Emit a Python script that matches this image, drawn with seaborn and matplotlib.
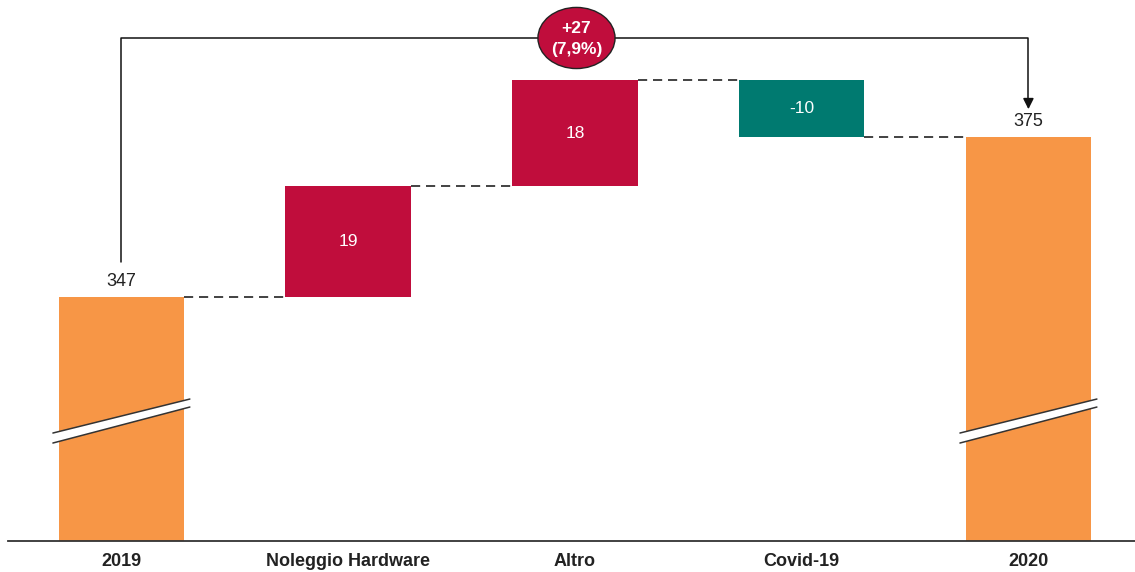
import matplotlib
matplotlib.use("Agg")
import matplotlib.pyplot as plt
import matplotlib.patches as mpatches
import seaborn as sns
import pandas as pd
import numpy as np

categories = ["2019", "Noleggio Hardware", "Altro", "Covid-19", "2020"]
start_value = 347.4
deltas = [19.4, 18.6, -10.0]
end_value = 375.4
value_labels = ["347", "19", "18", "-10", "375"]
total_label = "+27\n(7,9%)"

ORANGE = "#F79646"
RED = "#C00D3C"
TEAL = "#007A70"

sns.set_theme(style="white")
plt.rcParams['font.family'] = ['Liberation Sans Narrow', 'Liberation Sans', 'DejaVu Sans']

# waterfall geometry from data
tops, bottoms = [], []
cum = start_value
tops.append(start_value); bottoms.append(0.0)
for d in deltas:
    lo, hi = min(cum, cum + d), max(cum, cum + d)
    bottoms.append(lo); tops.append(hi)
    cum += d
tops.append(end_value); bottoms.append(0.0)
heights = [t - b for t, b in zip(tops, bottoms)]
colors = [ORANGE] + [RED if d > 0 else TEAL for d in deltas] + [ORANGE]

df = pd.DataFrame({"cat": categories, "h": heights})

fig = plt.figure(figsize=(11.35, 5.72), dpi=100)
ax = fig.add_axes([8 / 1135, 31 / 572, 1 - 8 / 1135, 541 / 572])
sns.barplot(data=df, x="cat", y="h", hue="cat", palette=colors, width=0.553,
            saturation=1, legend=False, ax=ax, edgecolor="none")
for p, b in zip(ax.patches, bottoms):
    p.set_y(b)

ax.set_xlim(-0.5, 4.47)
ax.set_ylim(304.7, 399.4)
ax.set_xlabel(""); ax.set_ylabel("")
ax.set_yticks([])
for s in ["top", "left", "right"]:
    ax.spines[s].set_visible(False)
ax.spines["bottom"].set_color("#333333")
ax.spines["bottom"].set_linewidth(1.3)
ax.tick_params(axis="x", length=0, pad=8.5)
for lab in ax.get_xticklabels():
    lab.set_fontweight("bold")
    lab.set_fontsize(13)
    lab.set_color("#222222")

hw = 0.553 / 2
# connectors
levels = [start_value]
cum = start_value
for d in deltas:
    cum += d
    levels.append(cum)
for i, lv in enumerate(levels):
    ax.plot([i + hw, i + 1 - hw], [lv, lv], color="#222222", lw=1.2,
            ls=(0, (5.5, 3.5)), zorder=1)

# labels
ax.text(0, tops[0] + 1.2, value_labels[0], ha="center", va="bottom", fontsize=13, color="#222222")
ax.text(4, tops[4] + 1.2, value_labels[4], ha="center", va="bottom", fontsize=13, color="#222222")
for i in range(1, 4):
    ax.text(i, (tops[i] + bottoms[i]) / 2, value_labels[i], ha="center", va="center",
            fontsize=12.5, color="white")

# axis break marks
for xc in [0, 4]:
    x0, x1 = xc - 0.302, xc + 0.302
    poly = mpatches.Polygon([(x0, 321.85), (x1, 328.15), (x1, 329.55), (x0, 323.6)],
                            closed=True, facecolor="white", edgecolor="none", zorder=3)
    ax.add_patch(poly)
    ax.plot([x0, x1], [323.6, 329.55], color="#333333", lw=1.1, zorder=4)
    ax.plot([x0, x1], [321.85, 328.15], color="#333333", lw=1.1, zorder=4)

# bracket
ytop = 392.75
ax.plot([0, 0, 4, 4], [353.5, ytop, ytop, 382.0], color="#111111", lw=1.1, zorder=2)
ax.annotate("", xy=(4, 379.8), xytext=(4, 382.5),
            arrowprops=dict(arrowstyle="-|>", color="#111111", lw=1.1, mutation_scale=16),
            zorder=2)
ell = mpatches.Ellipse((2.007, ytop), 0.34, 10.7, facecolor=RED, edgecolor="#222222",
                       lw=1.0, zorder=5)
ax.add_patch(ell)
ax.text(2.007, ytop - 0.2, total_label, ha="center", va="center", color="white",
        fontsize=12.5, fontweight="bold", zorder=6, linespacing=1.45)

fig.savefig("out.png", dpi=100)
